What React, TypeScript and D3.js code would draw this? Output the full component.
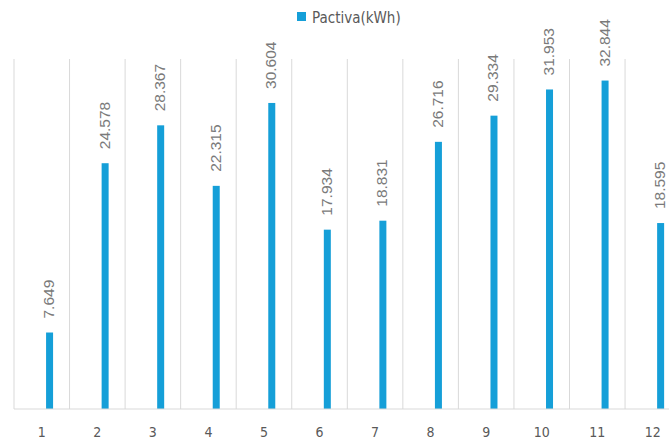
import React from "react";
import * as d3 from "d3";

const categories: string[] = ["1", "2", "3", "4", "5", "6", "7", "8", "9", "10", "11", "12"];
const values: number[] = [7.649, 24.578, 28.367, 22.315, 30.604, 17.934, 18.831, 26.716, 29.334, 31.953, 32.844, 18.595];
const labels: string[] = ["7.649", "24.578", "28.367", "22.315", "30.604", "17.934", "18.831", "26.716", "29.334", "31.953", "32.844", "18.595"];
const seriesName = "Pactiva(kWh)";

const W = 669;
const H = 443;
const BAR = "#159FD8";
const GRID = "#d9d9d9";
const TEXT = "#595959";
const LABEL = "#7a7a7a";

export default function App() {
  const x = d3.scaleBand<string>().domain(categories).range([14, 14 + 12 * 55.55]).padding(0);
  const y = d3.scaleLinear().domain([0, 35]).range([409, 59]);
  const bw = x.bandwidth();
  const font = "'Liberation Sans', Arial, sans-serif";
  return (
    <svg width={W} height={H} style={{ position: "absolute", left: 0, top: 0, background: "#fff" }}>
      {categories.map((c, i) => (
        <line key={"g" + i} x1={x(c)!} x2={x(c)!} y1={y(35)} y2={y(0)} stroke={GRID} strokeWidth={1} />
      ))}
      <line x1={x(categories[11])! + bw} x2={x(categories[11])! + bw} y1={y(35)} y2={y(0)} stroke={GRID} />
      {categories.map((c, i) => {
        const bx = x(c)! + bw / 2 + 4.3;
        return (
          <rect key={"b" + i} x={bx} y={y(values[i])} width={7} height={y(0) - y(values[i])} fill={BAR} />
        );
      })}
      <line x1={14} x2={W} y1={y(0)} y2={y(0)} stroke={GRID} strokeWidth={1} />
      {categories.map((c, i) => {
        const cx = x(c)! + bw / 2 + 6.8;
        const ty = y(values[i]) - 14;
        return (
          <text
            key={"l" + i}
            transform={`translate(${cx},${ty}) rotate(-90)`}
            dy="0.35em"
            fontSize={15.5}
            fill={LABEL}
            fontFamily={font}
          >
            {labels[i]}
          </text>
        );
      })}
      {categories.map((c, i) => (
        <text
          key={"t" + i}
          x={x(c)! + bw / 2}
          y={437}
          textAnchor="middle"
          fontSize={14}
          fill={TEXT}
          fontFamily="'DejaVu Sans Condensed', 'Liberation Sans', sans-serif"
        >
          {c}
        </text>
      ))}
      <rect x={297} y={12} width={9} height={9} fill={BAR} />
      <text x={312} y={22.5} fontSize={15} fill={TEXT} fontFamily="'DejaVu Sans Condensed', 'Liberation Sans', sans-serif">
        {seriesName}
      </text>
    </svg>
  );
}
